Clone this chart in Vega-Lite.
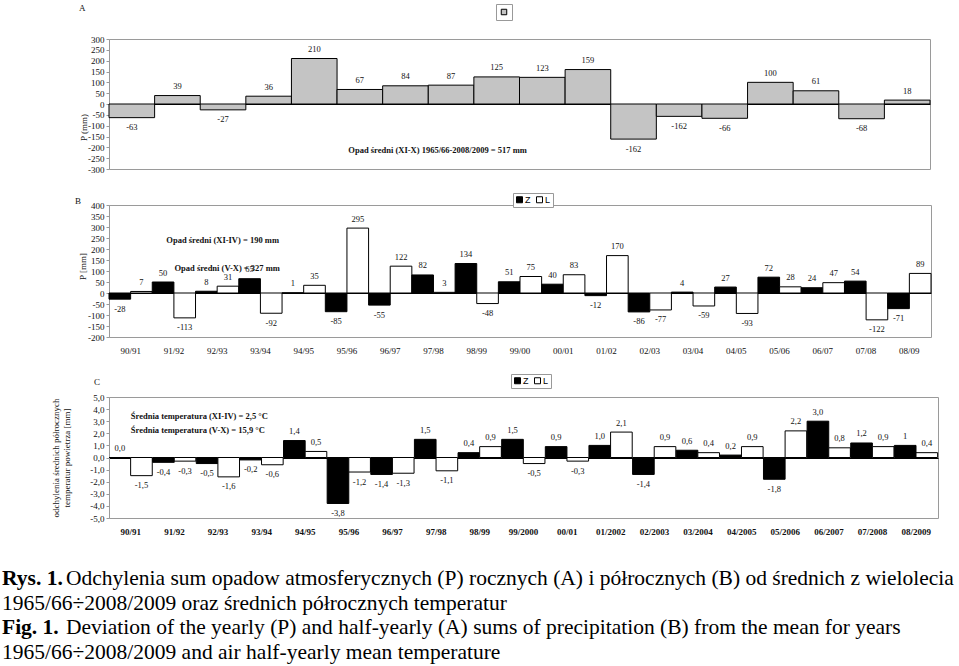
{
  "$schema": "https://vega.github.io/schema/vega-lite/v6.json",
  "padding": {"left": 2, "top": 3, "right": 0, "bottom": 0},
  "spacing": 17,
  "resolve": {"scale": {"fill": "independent", "x": "independent", "y": "independent"}, "legend": {"fill": "independent"}},
  "config": {
    "font": "Liberation Serif",
    "view": {"stroke": "#9a9a9a", "strokeWidth": 1},
    "locale": {"number": {"decimal": ",", "thousands": " ", "grouping": [3], "currency": ["", ""], "minus": "-"}},
    "axis": {"labelFont": "Liberation Serif", "labelFontSize": 9, "labelColor": "#111", "titleFont": "Liberation Serif", "titleFontSize": 9, "titleFontWeight": "normal", "titleColor": "#111", "domainColor": "#9a9a9a", "tickColor": "#9a9a9a", "grid": false, "labelOverlap": false},
    "title": {"font": "Liberation Serif", "fontSize": 9, "fontWeight": "normal", "anchor": "start", "frame": "group", "color": "#111"}
  },
  "vconcat": [
    {
      "width": 821, "height": 130,
      "title": {"text": "A", "dx": -30, "offset": -9.5},
      "encoding": {
        "x": {"field": "nr", "type": "ordinal", "axis": null, "scale": {"domain": [1,2,3,4,5,6,7,8,9,10,11,12,13,14,15,16,17,18], "paddingInner": 0, "paddingOuter": 0}},
        "y": {"field": "v", "type": "quantitative", "scale": {"domain": [-300, 300], "nice": false},
              "axis": {"values": [-300, -250, -200, -150, -100, -50, 0, 50, 100, 150, 200, 250, 300], "labelOverlap": false, "title": "P (mm)", "titleX": -26, "titleY": 88, "titleBaseline": "middle", "tickSize": 3, "labelPadding": 2, "grid": true, "gridColor": {"condition": {"test": "datum.value === 0", "value": "black"}, "value": "transparent"}}}
      },
      "layer": [
        {
          "data": {"values": [
            {"nr": 1, "v": -63, "lab": "-63", "seria": "P"},
            {"nr": 2, "v": 39, "lab": "39", "seria": "P"},
            {"nr": 3, "v": -27, "lab": "-27", "seria": "P"},
            {"nr": 4, "v": 36, "lab": "36", "seria": "P"},
            {"nr": 5, "v": 210, "lab": "210", "seria": "P"},
            {"nr": 6, "v": 67, "lab": "67", "seria": "P"},
            {"nr": 7, "v": 84, "lab": "84", "seria": "P"},
            {"nr": 8, "v": 87, "lab": "87", "seria": "P"},
            {"nr": 9, "v": 125, "lab": "125", "seria": "P"},
            {"nr": 10, "v": 123, "lab": "123", "seria": "P"},
            {"nr": 11, "v": 159, "lab": "159", "seria": "P"},
            {"nr": 12, "v": -162, "lab": "-162", "seria": "P"},
            {"nr": 13, "v": -57, "lab": "-162", "seria": "P"},
            {"nr": 14, "v": -66, "lab": "-66", "seria": "P"},
            {"nr": 15, "v": 100, "lab": "100", "seria": "P"},
            {"nr": 16, "v": 61, "lab": "61", "seria": "P"},
            {"nr": 17, "v": -68, "lab": "-68", "seria": "P"},
            {"nr": 18, "v": 18, "lab": "18", "seria": "P"}
          ]},
          "layer": [
            {
              "mark": {"type": "bar", "stroke": "black", "strokeWidth": 1},
              "encoding": {
                "fill": {"field": "seria", "type": "nominal", "scale": {"domain": ["P"], "range": ["#c4c4c4"]},
                         "legend": {"orient": "none", "legendX": 387, "legendY": -35, "title": null, "labelExpr": "''", "labelOffset": 0, "symbolType": "square", "symbolSize": 30, "symbolStrokeColor": "black", "symbolStrokeWidth": 1, "padding": 3, "strokeColor": "#999", "fillColor": "white", "encode": {"symbols": {"update": {"fill": {"value": "white"}, "stroke": {"value": "black"}}}}}}
              }
            },
            {
              "transform": [{"filter": "datum.v >= 0"}],
              "mark": {"type": "text", "dy": -9.5, "fontSize": 8.5, "baseline": "middle", "color": "#111"},
              "encoding": {"text": {"field": "lab"}}
            },
            {
              "transform": [{"filter": "datum.v < 0"}],
              "mark": {"type": "text", "dy": 9.5, "fontSize": 8.5, "baseline": "middle", "color": "#111"},
              "encoding": {"text": {"field": "lab"}}
            }
          ]
        },
        {
          "data": {"values": [{"t": "Opad średni (XI-X) 1965/66-2008/2009 = 517 mm", "v": -211, "nr": 8}]},
          "mark": {"type": "text", "fontWeight": "bold", "fontSize": 8.5, "dx": -13.5, "baseline": "middle", "color": "#111"},
          "encoding": {"text": {"field": "t"}}
        }
      ]
    },
    {
      "width": 822, "height": 132,
      "title": {"text": "B", "dx": -34, "offset": -13.5},
      "encoding": {
        "x": {"field": "okres", "type": "ordinal", "scale": {"domain": ["90/91","91/92","92/93","93/94","94/95","95/96","96/97","97/98","98/99","99/00","00/01","01/02","02/03","03/04","04/05","05/06","06/07","07/08","08/09"], "paddingInner": 0, "paddingOuter": 0},
              "axis": {"title": null, "ticks": false, "domain": false, "labelPadding": 9, "labelAngle": 0}},
        "y": {"field": "v", "type": "quantitative", "scale": {"domain": [-200, 400], "nice": false},
              "axis": {"values": [-200, -150, -100, -50, 0, 50, 100, 150, 200, 250, 300, 350, 400], "labelOverlap": false, "title": "P [mm]", "titleX": -27, "titleY": 61, "titleBaseline": "middle", "tickSize": 3, "labelPadding": 2, "grid": true, "gridColor": {"condition": {"test": "datum.value === 0", "value": "black"}, "value": "transparent"}}}
      },
      "layer": [
        {
          "data": {"values": [
            {"okres": "90/91", "seria": "Z", "v": -28}, {"okres": "90/91", "seria": "L", "v": 7},
            {"okres": "91/92", "seria": "Z", "v": 50}, {"okres": "91/92", "seria": "L", "v": -113},
            {"okres": "92/93", "seria": "Z", "v": 8}, {"okres": "92/93", "seria": "L", "v": 31},
            {"okres": "93/94", "seria": "Z", "v": 65}, {"okres": "93/94", "seria": "L", "v": -92},
            {"okres": "94/95", "seria": "Z", "v": 1}, {"okres": "94/95", "seria": "L", "v": 35},
            {"okres": "95/96", "seria": "Z", "v": -85}, {"okres": "95/96", "seria": "L", "v": 295},
            {"okres": "96/97", "seria": "Z", "v": -55}, {"okres": "96/97", "seria": "L", "v": 122},
            {"okres": "97/98", "seria": "Z", "v": 82}, {"okres": "97/98", "seria": "L", "v": 3},
            {"okres": "98/99", "seria": "Z", "v": 134}, {"okres": "98/99", "seria": "L", "v": -48},
            {"okres": "99/00", "seria": "Z", "v": 51}, {"okres": "99/00", "seria": "L", "v": 75},
            {"okres": "00/01", "seria": "Z", "v": 40}, {"okres": "00/01", "seria": "L", "v": 83},
            {"okres": "01/02", "seria": "Z", "v": -12}, {"okres": "01/02", "seria": "L", "v": 170},
            {"okres": "02/03", "seria": "Z", "v": -86}, {"okres": "02/03", "seria": "L", "v": -77},
            {"okres": "03/04", "seria": "Z", "v": 4}, {"okres": "03/04", "seria": "L", "v": -59},
            {"okres": "04/05", "seria": "Z", "v": 27}, {"okres": "04/05", "seria": "L", "v": -93},
            {"okres": "05/06", "seria": "Z", "v": 72}, {"okres": "05/06", "seria": "L", "v": 28},
            {"okres": "06/07", "seria": "Z", "v": 24}, {"okres": "06/07", "seria": "L", "v": 47},
            {"okres": "07/08", "seria": "Z", "v": 54}, {"okres": "07/08", "seria": "L", "v": -122},
            {"okres": "08/09", "seria": "Z", "v": -71}, {"okres": "08/09", "seria": "L", "v": 89}
          ]},
          "layer": [
            {
              "mark": {"type": "bar", "stroke": "black", "strokeWidth": 1},
              "encoding": {
                "xOffset": {"field": "seria", "type": "nominal", "scale": {"domain": ["Z", "L"], "paddingInner": 0, "paddingOuter": 0}},
                "fill": {"field": "seria", "type": "nominal", "scale": {"domain": ["Z", "L"], "range": ["black", "white"]},
                         "legend": {"orient": "none", "legendX": 404, "legendY": -12, "direction": "horizontal", "title": null, "symbolType": "square", "symbolSize": 36, "symbolStrokeColor": "black", "symbolStrokeWidth": 1, "labelFont": "Liberation Sans", "labelFontSize": 9, "labelOffset": 1, "columnPadding": 3, "padding": 2, "strokeColor": "#999", "fillColor": "white"}}
              }
            },
            {
              "transform": [{"filter": "datum.v >= 0"}],
              "mark": {"type": "text", "dy": -9.5, "fontSize": 8.5, "baseline": "middle", "color": "#111"},
              "encoding": {"xOffset": {"field": "seria", "type": "nominal"}, "text": {"field": "v", "type": "quantitative", "format": "d"}}
            },
            {
              "transform": [{"filter": "datum.v < 0"}],
              "mark": {"type": "text", "dy": 9.5, "fontSize": 8.5, "baseline": "middle", "color": "#111"},
              "encoding": {"xOffset": {"field": "seria", "type": "nominal"}, "text": {"field": "v", "type": "quantitative", "format": "d"}}
            }
          ]
        },
        {
          "data": {"values": [{"t": "Opad średni (XI-IV) = 190 mm", "v": 240, "okres": "92/93"}]},
          "mark": {"type": "text", "fontWeight": "bold", "fontSize": 8.5, "dx": 5.5, "baseline": "middle", "color": "#111"},
          "encoding": {"text": {"field": "t"}}
        },
        {
          "data": {"values": [{"t": "Opad średni (V-X) = 327 mm", "v": 114, "okres": "92/93"}]},
          "mark": {"type": "text", "fontWeight": "bold", "fontSize": 8.5, "dx": 10, "baseline": "middle", "color": "#111"},
          "encoding": {"text": {"field": "t"}}
        }
      ]
    },
    {
      "width": 829, "height": 121,
      "title": {"text": "C", "dx": -15, "offset": -13.2},
      "encoding": {
        "x": {"field": "okres", "type": "ordinal", "scale": {"domain": ["90/91","91/92","92/93","93/94","94/95","95/96","96/97","97/98","98/99","99/2000","00/01","01/2002","02/2003","03/2004","04/2005","05/2006","06/2007","07/2008","08/2009"], "paddingInner": 0, "paddingOuter": 0},
              "axis": {"title": null, "ticks": false, "domain": false, "labelPadding": 9, "labelAngle": 0, "labelFontWeight": "bold"}},
        "y": {"field": "v", "type": "quantitative", "scale": {"domain": [-5, 5], "nice": false},
              "axis": {"values": [-5, -4, -3, -2, -1, 0, 1, 2, 3, 4, 5], "labelOverlap": false, "format": ".1f", "title": ["odchylenia średnich półrocznych", "temperatur powietrza [mm]"], "titlePadding": 18, "tickSize": 3, "labelPadding": 2, "grid": true, "gridColor": {"condition": {"test": "datum.value === 0", "value": "black"}, "value": "transparent"}}}
      },
      "layer": [
        {
          "data": {"values": [
            {"okres": "90/91", "seria": "Z", "v": 0.0, "lab": "0,0"}, {"okres": "90/91", "seria": "L", "v": -1.5, "lab": "-1,5"},
            {"okres": "91/92", "seria": "Z", "v": -0.4, "lab": "-0,4"}, {"okres": "91/92", "seria": "L", "v": -0.3, "lab": "-0,3"},
            {"okres": "92/93", "seria": "Z", "v": -0.5, "lab": "-0,5"}, {"okres": "92/93", "seria": "L", "v": -1.6, "lab": "-1,6"},
            {"okres": "93/94", "seria": "Z", "v": -0.2, "lab": "-0,2"}, {"okres": "93/94", "seria": "L", "v": -0.6, "lab": "-0,6"},
            {"okres": "94/95", "seria": "Z", "v": 1.4, "lab": "1,4"}, {"okres": "94/95", "seria": "L", "v": 0.5, "lab": "0,5"},
            {"okres": "95/96", "seria": "Z", "v": -3.8, "lab": "-3,8"}, {"okres": "95/96", "seria": "L", "v": -1.2, "lab": "-1,2"},
            {"okres": "96/97", "seria": "Z", "v": -1.4, "lab": "-1,4"}, {"okres": "96/97", "seria": "L", "v": -1.3, "lab": "-1,3"},
            {"okres": "97/98", "seria": "Z", "v": 1.5, "lab": "1,5"}, {"okres": "97/98", "seria": "L", "v": -1.1, "lab": "-1,1"},
            {"okres": "98/99", "seria": "Z", "v": 0.4, "lab": "0,4"}, {"okres": "98/99", "seria": "L", "v": 0.9, "lab": "0,9"},
            {"okres": "99/2000", "seria": "Z", "v": 1.5, "lab": "1,5"}, {"okres": "99/2000", "seria": "L", "v": -0.5, "lab": "-0,5"},
            {"okres": "00/01", "seria": "Z", "v": 0.9, "lab": "0,9"}, {"okres": "00/01", "seria": "L", "v": -0.3, "lab": "-0,3"},
            {"okres": "01/2002", "seria": "Z", "v": 1.0, "lab": "1,0"}, {"okres": "01/2002", "seria": "L", "v": 2.1, "lab": "2,1"},
            {"okres": "02/2003", "seria": "Z", "v": -1.4, "lab": "-1,4"}, {"okres": "02/2003", "seria": "L", "v": 0.9, "lab": "0,9"},
            {"okres": "03/2004", "seria": "Z", "v": 0.6, "lab": "0,6"}, {"okres": "03/2004", "seria": "L", "v": 0.4, "lab": "0,4"},
            {"okres": "04/2005", "seria": "Z", "v": 0.2, "lab": "0,2"}, {"okres": "04/2005", "seria": "L", "v": 0.9, "lab": "0,9"},
            {"okres": "05/2006", "seria": "Z", "v": -1.8, "lab": "-1,8"}, {"okres": "05/2006", "seria": "L", "v": 2.2, "lab": "2,2"},
            {"okres": "06/2007", "seria": "Z", "v": 3.0, "lab": "3,0"}, {"okres": "06/2007", "seria": "L", "v": 0.8, "lab": "0,8"},
            {"okres": "07/2008", "seria": "Z", "v": 1.2, "lab": "1,2"}, {"okres": "07/2008", "seria": "L", "v": 0.9, "lab": "0,9"},
            {"okres": "08/2009", "seria": "Z", "v": 1.0, "lab": "1"}, {"okres": "08/2009", "seria": "L", "v": 0.4, "lab": "0,4"}
          ]},
          "layer": [
            {
              "mark": {"type": "bar", "stroke": "black", "strokeWidth": 1},
              "encoding": {
                "xOffset": {"field": "seria", "type": "nominal", "scale": {"domain": ["Z", "L"], "paddingInner": 0, "paddingOuter": 0}},
                "fill": {"field": "seria", "type": "nominal", "scale": {"domain": ["Z", "L"], "range": ["black", "white"]},
                         "legend": {"orient": "none", "legendX": 402, "legendY": -23, "direction": "horizontal", "title": null, "symbolType": "square", "symbolSize": 36, "symbolStrokeColor": "black", "symbolStrokeWidth": 1, "labelFont": "Liberation Sans", "labelFontSize": 9, "labelOffset": 1, "columnPadding": 3, "padding": 2, "strokeColor": "#999", "fillColor": "white"}}
              }
            },
            {
              "transform": [{"filter": "datum.v >= 0"}],
              "mark": {"type": "text", "dy": -9.5, "fontSize": 8.5, "baseline": "middle", "color": "#111"},
              "encoding": {"xOffset": {"field": "seria", "type": "nominal"}, "text": {"field": "lab"}}
            },
            {
              "transform": [{"filter": "datum.v < 0"}],
              "mark": {"type": "text", "dy": 9.5, "fontSize": 8.5, "baseline": "middle", "color": "#111"},
              "encoding": {"xOffset": {"field": "seria", "type": "nominal"}, "text": {"field": "lab"}}
            }
          ]
        },
        {
          "data": {"values": [
            {"t": "Średnia temperatura (XI-IV) = 2,5 °C", "v": 3.4, "okres": "90/91"},
            {"t": "Średnia temperatura (V-X) = 15,9 °C", "v": 2.25, "okres": "90/91"}
          ]},
          "mark": {"type": "text", "fontWeight": "bold", "fontSize": 8.5, "align": "left", "baseline": "middle", "color": "#111"},
          "encoding": {"text": {"field": "t"}}
        }
      ]
    },
    {
      "width": 840, "height": 90,
      "view": {"stroke": null},
      "data": {"values": [
        {"w": 1, "typ": "a", "b": "Rys. 1.", "t": "Odchylenia sum opadow atmosferycznych (P) rocznych (A) i półrocznych (B) od średnich z wielolecia"},
        {"w": 2, "typ": "b", "b": "", "t": "1965/66÷2008/2009 oraz średnich półrocznych temperatur"},
        {"w": 3, "typ": "a", "b": "Fig. 1.", "t": "Deviation of the yearly (P) and half-yearly (A) sums of precipitation (B) from the mean for years"},
        {"w": 4, "typ": "b", "b": "", "t": "1965/66÷2008/2009 and air half-yearly mean temperature"}
      ]},
      "encoding": {
        "y": {"field": "w", "type": "ordinal", "axis": null, "scale": {"type": "point", "padding": 0.344}},
        "x": {"datum": 0, "type": "quantitative", "scale": {"domain": [0, 1]}, "axis": null}
      },
      "layer": [
        {
          "transform": [{"filter": "datum.typ == 'a'"}],
          "mark": {"type": "text", "align": "left", "baseline": "middle", "fontWeight": "bold", "fontSize": 21.5, "dx": -107, "dy": 17, "color": "black"},
          "encoding": {"text": {"field": "b"}}
        },
        {
          "transform": [{"filter": "datum.typ == 'a'"}],
          "mark": {"type": "text", "align": "left", "baseline": "middle", "fontSize": 21.5, "dx": -43, "dy": 17, "color": "black"},
          "encoding": {"text": {"field": "t"}}
        },
        {
          "transform": [{"filter": "datum.typ == 'b'"}],
          "mark": {"type": "text", "align": "left", "baseline": "middle", "fontSize": 21.5, "dx": -107, "dy": 17, "color": "black"},
          "encoding": {"text": {"field": "t"}}
        }
      ]
    }
  ]
}
